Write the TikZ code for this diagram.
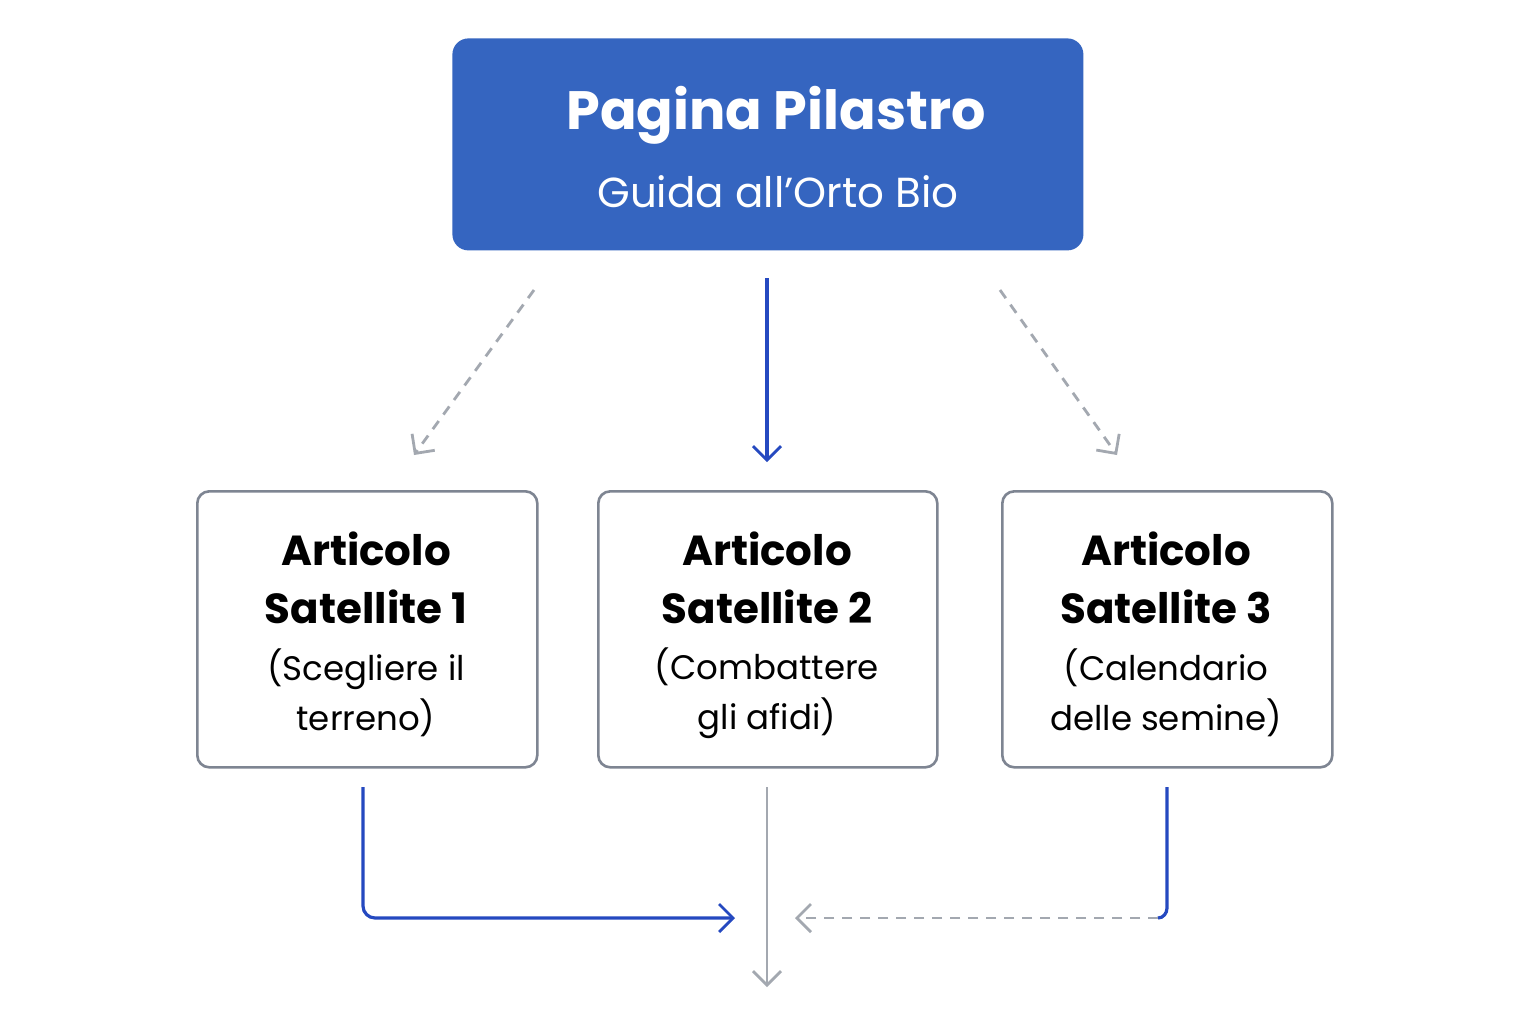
\documentclass[tikz,border=0pt]{standalone}
\usepackage{fontspec}
\setmainfont{Poppins}
\usetikzlibrary{arrows.meta}
\definecolor{pblue}{HTML}{3565C0}
\definecolor{ablue}{HTML}{2549C0}
\definecolor{bgray}{HTML}{7E8592}
\definecolor{agray}{HTML}{A3A8B0}
\begin{document}
\begin{tikzpicture}[x=0.5pt,y=-0.5pt,
  sat/.style={draw=bgray,line width=1.3pt,rounded corners=6pt,fill=white,minimum height=138pt,anchor=north west,inner sep=0},
  tip/.style={-{Straight Barb[length=7pt,width=14pt,line width=1.4pt]}},
  blu/.style={draw=ablue,line width=1.6pt,tip},
  gry/.style={draw=agray,line width=1.4pt,tip},
  dgry/.style={gry,dash pattern=on 5pt off 4pt}]
\useasboundingbox (0,0) rectangle (1536,1024);
\fill[white] (0,0) rectangle (1536,1024);
\node[fill=pblue,rounded corners=8pt,minimum width=315.5pt,minimum height=106pt,anchor=north west,inner sep=0] (top) at (452,38) {};
\node[text=white,font=\fontsize{27}{32}\selectfont\bfseries] (t1) at (776,115) {Pagina Pilastro};
\node[text=white,font=\fontsize{21}{25}\selectfont] (t2) at (778,192) {Guida all’Orto Bio};
\node[sat,minimum width=170pt] (s1) at (196,490) {};
\node[sat,minimum width=169.5pt] (s2) at (597,490) {};
\node[sat,minimum width=165pt] (s3) at (1001,490) {};
\foreach \n/\x/\a/\b/\c in {1/366/1/(Scegliere il/terreno),2/767/2/(Combattere/gli afidi),3/1166/3/(Calendario/delle semine)}{
  \node[font=\fontsize{21}{29}\selectfont\bfseries,align=center] (h\n) at (\x,578) {Articolo\\Satellite \a};
  \node[font=\fontsize{17}{25}\selectfont,align=center] (d\n) at (\x,693) {\b\\\c};
}
\coordinate (a1s) at (534,290); \coordinate (a1e) at (414,455);
\coordinate (a2s) at (767,278); \coordinate (a2e) at (767,462);
\coordinate (a3s) at (1000,290); \coordinate (a3e) at (1117,455);
\draw[dgry] (a1s) -- (a1e);
\draw[blu] (a2s) -- (a2e);
\draw[dgry] (a3s) -- (a3e);
\coordinate (b1) at (363,787); \coordinate (b1e) at (735,918);
\coordinate (b2) at (767,787); \coordinate (b2e) at (767,987);
\coordinate (b3) at (1167,787); \coordinate (b3m) at (1158,918); \coordinate (b3e) at (795,918);
\draw[blu,rounded corners=6pt] (b1) |- (b1e);
\draw[gry] (b2) -- (b2e);
\draw[draw=ablue,line width=1.6pt] (b3) -- (1167,908) to[out=-90,in=0] (b3m);
\draw[dgry] (b3m) -- (b3e);
\end{tikzpicture}
\end{document}
